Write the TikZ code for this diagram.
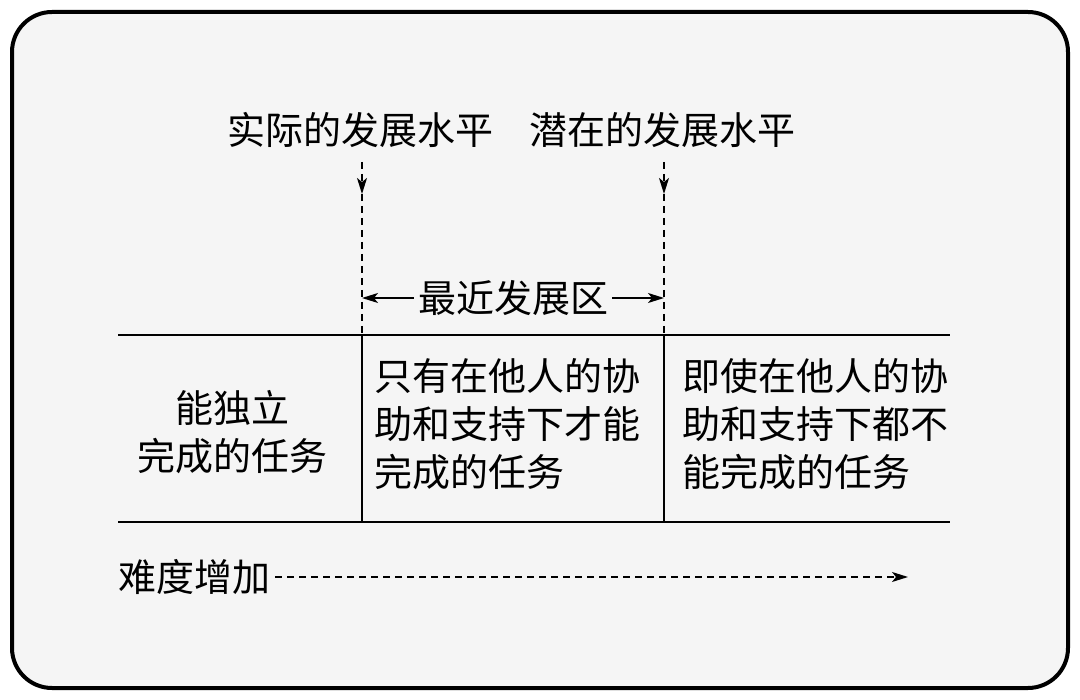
\documentclass[tikz,border=0pt]{standalone}
\usepackage{fontspec}
\newfontfamily\cjk{Noto Sans CJK SC}
\usetikzlibrary{arrows.meta}
\begin{document}
\begin{tikzpicture}[x=1pt,y=-1pt,
  txt/.style={font=\cjk\fontsize{38}{48}\selectfont,inner sep=0pt},
  cell/.style={txt,align=left,anchor=north west},
  dline/.style={line width=1.5pt,dash pattern=on 7pt off 5pt},
  tip/.style={-{Stealth[length=16pt,width=10pt,inset=4pt]}},
  rule/.style={line width=1.8pt}]
\useasboundingbox (0,0) rectangle (1080,700);
\draw[line width=4pt,fill=black!4,rounded corners=40pt] (12,12) rectangle (1068,688);
\node[txt] (a) at (360,130) {实际的发展水平};
\node[txt] (p) at (662,130) {潜在的发展水平};
\coordinate (a1) at (362,162); \coordinate (a2) at (362,194);
\coordinate (p1) at (664,162); \coordinate (p2) at (664,194);
\coordinate (l1) at (118,335); \coordinate (r1) at (950,335);
\coordinate (l2) at (118,522); \coordinate (r2) at (950,522);
\coordinate (ab) at (362,522); \coordinate (pb) at (664,522);
\coordinate (at) at (362,335); \coordinate (pt) at (664,335);
\draw[dline,tip] (a1) -- (a2);
\draw[dline] (a2) -- (at);
\draw[dline,tip] (p1) -- (p2);
\draw[dline] (p2) -- (pt);
\node[txt] (z) at (513,298) {最近发展区};
\draw[line width=1.5pt,tip] (z.west) ++(-4,0) -- (362,298);
\draw[line width=1.5pt,tip] (z.east) ++(4,0) -- (664,298);
\draw[rule] (l1) -- (r1);
\draw[rule] (l2) -- (r2);
\draw[rule] (at) -- (ab);
\draw[rule] (pt) -- (pb);
\node[txt,align=center] (c1) at (232,432) {能独立\\完成的任务};
\node[cell] (c2) at (374,358) {只有在他人的协\\助和支持下才能\\完成的任务};
\node[cell] (c3) at (682,358) {即使在他人的协\\助和支持下都不\\能完成的任务};
\node[txt,anchor=west] (d) at (118,577) {难度增加};
\coordinate (de) at (908,577);
\draw[dline,tip] (d.east) ++(5,0) -- (de);
\end{tikzpicture}
\end{document}
